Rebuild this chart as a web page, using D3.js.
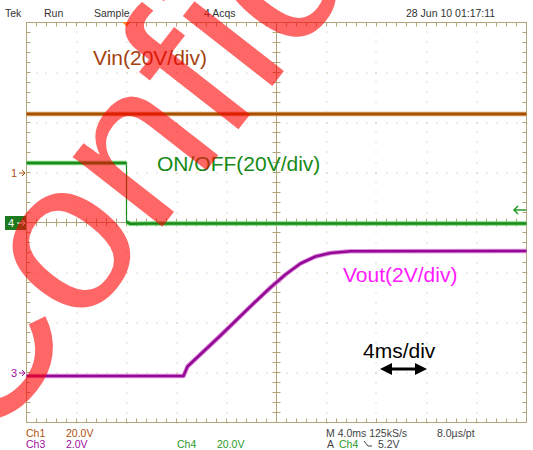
<!DOCTYPE html>
<html><head><meta charset="utf-8">
<script src="https://cdn.jsdelivr.net/npm/d3@7"></script>
<style>body{margin:0;background:#fff}svg{display:block}text{font-family:"Liberation Sans",Arial,sans-serif}</style>
</head><body><svg id="c" width="533" height="450"></svg>
<script>
// ---- data (time in ms relative to trigger, volts) ----
const vinTime = [-8, 32];
const vinVolts = [23.4, 23.4];
const onoffTime = [-8, 0, 0, 0.3, 2, 32];
const onoffVolts = [23.8, 23.8, 0.2, -0.5, -0.4, -0.4];
const voutTime = [-8, 4.56, 4.88, 7.52, 10.16, 11.52, 12.72, 13.92, 15.12, 16.32, 17.92, 32];
const voutVolts = [-0.14, -0.14, 0.24, 1.48, 2.76, 3.4, 3.92, 4.36, 4.64, 4.78, 4.85, 4.86];
const headerLabels = ["Tek", "Run", "Sample", "4 Acqs", "28 Jun 10 01:17:11"];
const traceLabels = ["Vin(20V/div)", "ON/OFF(20V/div)", "Vout(2V/div)"];
const timebaseLabel = "4ms/div";
const footRow1 = ["Ch1", "20.0V", "M 4.0ms 125kS/s", "8.0\u00b5s/pt"];
const footRow2 = ["Ch3", "2.0V", "Ch4", "20.0V", "A", "Ch4", "5.2V"];
const watermark = "Confidential";

// channel setup: volts/div and ground position (divisions from centre)
const ch1 = {vdiv: 20, pos: 1};
const ch3 = {vdiv: 2, pos: -3};
const ch4 = {vdiv: 20, pos: 0};
const trigLevel = 5.2;

const svg = d3.select("#c");
const x = d3.scaleLinear().domain([-8, 32]).range([26.5, 526.5]);
const yd = d3.scaleLinear().domain([-4, 4]).range([422.5, 22.5]);
const yv = (ch, v) => yd(ch.pos + v / ch.vdiv);
const GR = "#b2a57a", DOT = "#c2b994";

// ---- graticule ----
const g = svg.append("g");
const minorX = d3.range(0, 51).map(i => -8 + i * 0.8);
const minorY = d3.range(0, 41).map(i => -4 + i * 0.2);
const majorX = d3.range(-4, 32, 4).filter(t => t !== 12);
const majorY = d3.range(-3, 4, 1).filter(d => d !== 0);
majorX.forEach(t => minorY.forEach(d => g.append("rect").attr("x", Math.round(x(t)) - 0.5).attr("y", Math.round(yd(d)) - 0.5).attr("width", 1).attr("height", 1).attr("fill", DOT)));
majorY.forEach(d => minorX.forEach(t => g.append("rect").attr("x", Math.round(x(t)) - 0.5).attr("y", Math.round(yd(d)) - 0.5).attr("width", 1).attr("height", 1).attr("fill", DOT)));
g.append("rect").attr("x", x(-8)).attr("y", yd(4)).attr("width", x(32) - x(-8)).attr("height", yd(-4) - yd(4)).attr("fill", "none").attr("stroke", GR);
g.append("line").attr("x1", x(-8)).attr("x2", x(32)).attr("y1", yd(0)).attr("y2", yd(0)).attr("stroke", GR);
g.append("line").attr("x1", x(12)).attr("x2", x(12)).attr("y1", yd(4)).attr("y2", yd(-4)).attr("stroke", GR);
minorX.forEach(t => {
  g.append("line").attr("x1", x(t)).attr("x2", x(t)).attr("y1", yd(4)).attr("y2", yd(4) + 4).attr("stroke", GR);
  g.append("line").attr("x1", x(t)).attr("x2", x(t)).attr("y1", yd(-4)).attr("y2", yd(-4) - 4).attr("stroke", GR);
  g.append("line").attr("x1", x(t)).attr("x2", x(t)).attr("y1", yd(0) - 4).attr("y2", yd(0) + 4).attr("stroke", GR);
});
minorY.forEach(d => {
  g.append("line").attr("y1", yd(d)).attr("y2", yd(d)).attr("x1", x(-8)).attr("x2", x(-8) + 4).attr("stroke", GR);
  g.append("line").attr("y1", yd(d)).attr("y2", yd(d)).attr("x1", x(32)).attr("x2", x(32) - 4).attr("stroke", GR);
  g.append("line").attr("y1", yd(d)).attr("y2", yd(d)).attr("x1", x(12) - 4).attr("x2", x(12) + 4).attr("stroke", GR);
});

// ---- traces ----
function trace(times, volts, ch, color, halo) {
  const pts = times.map((t, i) => [x(t), yv(ch, volts[i])]);
  const line = d3.line();
  svg.append("path").attr("d", line(pts)).attr("fill", "none").attr("stroke", color).attr("stroke-width", 1.2);
  const segs = [];
  let cur = [pts[0]];
  for (let i = 1; i < pts.length; i++) {
    if (times[i] === times[i - 1]) { segs.push(cur); cur = [pts[i]]; }
    else cur.push(pts[i]);
  }
  segs.push(cur);
  segs.filter(s => s.length > 1).forEach(s => {
    svg.append("path").attr("d", line(s)).attr("fill", "none").attr("stroke", halo).attr("stroke-width", 4.5).attr("stroke-linejoin", "round");
    svg.append("path").attr("d", line(s)).attr("fill", "none").attr("stroke", color).attr("stroke-width", 2.6).attr("stroke-linejoin", "round");
  });
}
trace(vinTime, vinVolts, ch1, "#a85000", "#d29a60");
trace(onoffTime, onoffVolts, ch4, "#1c8a1c", "#7ad77a");
trace(voutTime, voutVolts, ch3, "#960896", "#d98fd9");

// ---- channel markers ----
function marker(ch, label, color) {
  const yy = Math.round(yv(ch, 0));
  svg.append("text").attr("x", 11).attr("y", yy + 4).attr("font-size", 11).attr("fill", color).text(label);
  svg.append("path").attr("d", `M19,${yy}H25M22,${yy - 3}L25,${yy}L22,${yy + 3}`).attr("stroke", color).attr("fill", "none");
}
marker(ch1, "1", "#b05010");
marker(ch3, "3", "#a010a0");
{
  const yy = Math.round(yv(ch4, 0));
  svg.append("rect").attr("x", 5).attr("y", yy - 7).attr("width", 21).attr("height", 14).attr("fill", "#1e7a1e");
  svg.append("text").attr("x", 8).attr("y", yy + 4).attr("font-size", 11).attr("fill", "#fff").text("4");
  svg.append("path").attr("d", `M17,${yy}H25M22,${yy - 3}L25,${yy}L22,${yy + 3}`).attr("stroke", "#fff").attr("fill", "none");
}
{
  const yy = Math.round(yv(ch4, trigLevel));
  svg.append("path").attr("d", `M514,${yy}H526M518,${yy - 4}L514,${yy}L518,${yy + 4}`).attr("stroke", "#2a9a2a").attr("stroke-width", 1.5).attr("fill", "none");
}
svg.append("path").attr("d", `M${x(0) - 4},22L${x(0) + 4},22L${x(0)},27Z`).attr("fill", "#ff7f27");

// ---- header ----
const hx = [5, 44, 94, 204, 406];
headerLabels.forEach((t, i) => svg.append("text").attr("x", hx[i]).attr("y", 17).attr("font-size", 10.5).attr("fill", "#333").text(t));

// ---- footer ----
const f1x = [26, 66, 326, 437], f1c = ["#b05010", "#b05010", "#444", "#444"];
footRow1.forEach((t, i) => svg.append("text").attr("x", f1x[i]).attr("y", 437).attr("font-size", 10.5).attr("fill", f1c[i]).text(t));
const f2x = [26, 66, 177, 217, 327, 339, 378], f2c = ["#a010a0", "#a010a0", "#2a9a2a", "#2a9a2a", "#444", "#2a9a2a", "#444"];
footRow2.forEach((t, i) => svg.append("text").attr("x", f2x[i]).attr("y", 448).attr("font-size", 10.5).attr("fill", f2c[i]).text(t));
svg.append("path").attr("d", "M364,441L368,446L372,446").attr("stroke", "#444").attr("fill", "none");

// ---- annotations ----
const labCol = ["#a5420f", "#178a17", "#ff1aff"];
const labPos = [[93, 65], [157, 171], [343, 282]];
traceLabels.forEach((t, i) => svg.append("text").attr("x", labPos[i][0]).attr("y", labPos[i][1]).attr("font-size", 21).attr("fill", labCol[i]).text(t));
svg.append("text").attr("x", 363).attr("y", 358).attr("font-size", 21).attr("fill", "#000").text(timebaseLabel);
svg.append("defs").append("marker").attr("id", "ah").attr("viewBox", "0 0 10 10").attr("refX", 5).attr("refY", 5)
  .attr("markerWidth", 4).attr("markerHeight", 4).attr("orient", "auto-start-reverse")
  .append("path").attr("d", "M0,0L10,5L0,10Z").attr("fill", "#000");
svg.append("line").attr("x1", 386).attr("x2", 421).attr("y1", 369).attr("y2", 369).attr("stroke", "#000").attr("stroke-width", 3)
  .attr("marker-start", "url(#ah)").attr("marker-end", "url(#ah)");

// ---- watermark ----
svg.append("text").attr("transform", "translate(-16,455) rotate(-52)").attr("font-size", 215)
  .attr("fill", "#ff0000").attr("fill-opacity", 0.6).text(watermark);
</script></body></html>
